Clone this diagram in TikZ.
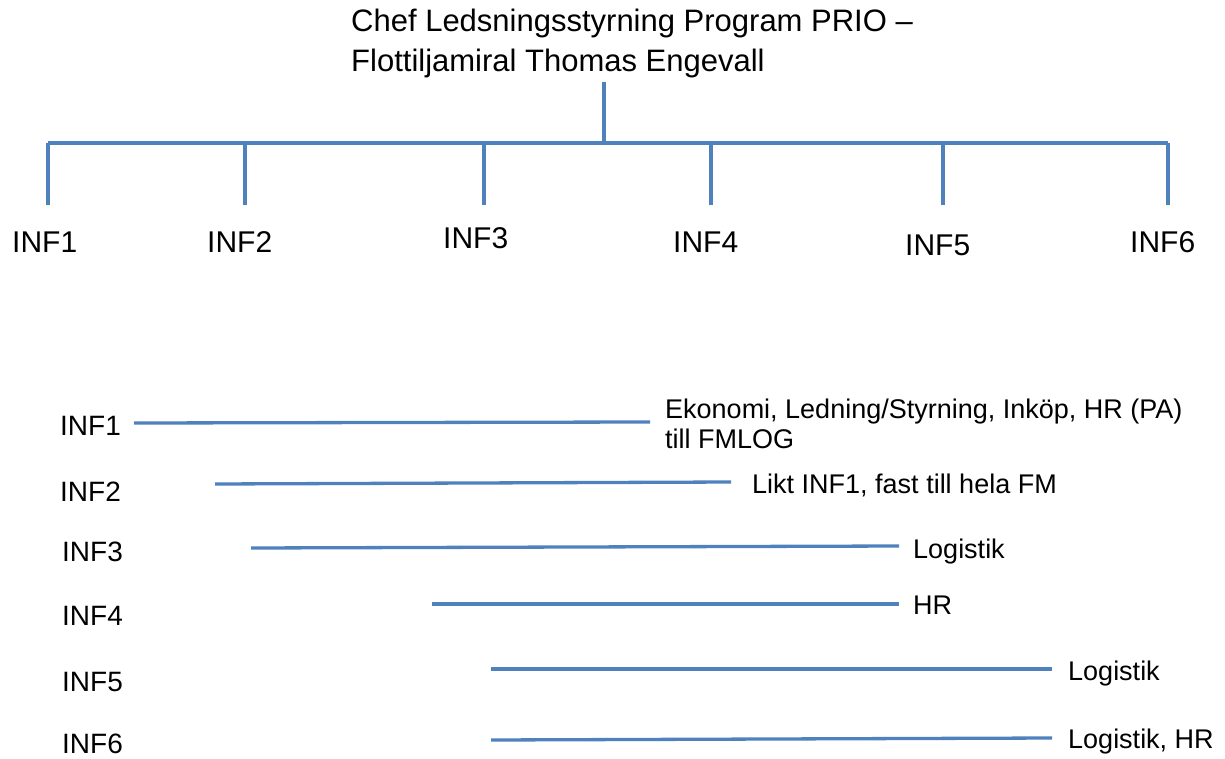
\documentclass[tikz,border=0pt]{standalone}
\usepackage{fontspec}
\setmainfont{Liberation Sans}
\definecolor{lineblue}{RGB}{79,129,189}
\tikzset{
  conn/.style={draw=lineblue, line width=3.3pt},
  ttl/.style={anchor=base west, inner sep=0pt, font=\fontsize{31}{36}\selectfont},
  toplbl/.style={anchor=base west, inner sep=0pt, font=\fontsize{30}{34}\selectfont},
  botlbl/.style={anchor=base west, inner sep=0pt, font=\fontsize{28}{32}\selectfont},
  desc/.style={anchor=base west, inner sep=0pt, font=\fontsize{27}{30}\selectfont}
}
\begin{document}
\begin{tikzpicture}[x=1pt,y=-1pt]
\useasboundingbox (0,0) rectangle (1225,759);
% title
\node[ttl] (title1) at (351,32) {Chef Ledsningsstyrning Program PRIO --};
\node[ttl] (title2) at (351,72) {Flottiljamiral Thomas Engevall};
\coordinate (stemtop) at (604,82);
\coordinate (hub) at (604,143);
\draw[conn] (stemtop) -- (hub);
% bar points
\coordinate (b1) at (48,143);
\coordinate (b2) at (245,143);
\coordinate (b3) at (484,143);
\coordinate (b4) at (711,143);
\coordinate (b5) at (943,143);
\coordinate (b6) at (1168,143);
\draw[conn] (b1) -- (b6);
\coordinate (d1) at (48,205);
\coordinate (d2) at (245,205);
\coordinate (d3) at (484,205);
\coordinate (d4) at (711,205);
\coordinate (d5) at (943,205);
\coordinate (d6) at (1168,205);
\foreach \i in {1,...,6} { \draw[conn] (b\i) -- (d\i); }
% top labels
\node[toplbl] (t1) at (12,253) {INF1};
\node[toplbl] (t2) at (207,253) {INF2};
\node[toplbl] (t3) at (443,249) {INF3};
\node[toplbl] (t4) at (673,253) {INF4};
\node[toplbl] (t5) at (905,255) {INF5};
\node[toplbl] (t6) at (1130,253) {INF6};
% bottom labels
\node[botlbl] (l1) at (60,435) {INF1};
\node[botlbl] (l2) at (60,501) {INF2};
\node[botlbl] (l3) at (62,561) {INF3};
\node[botlbl] (l4) at (62,625) {INF4};
\node[botlbl] (l5) at (62,691) {INF5};
\node[botlbl] (l6) at (62,753) {INF6};
% bottom lines
\coordinate (s1) at (134,423); \coordinate (e1) at (650,422);
\coordinate (s2) at (215,484); \coordinate (e2) at (731,482);
\coordinate (s3) at (251,548); \coordinate (e3) at (899,546);
\coordinate (s4) at (432,604); \coordinate (e4) at (899,604);
\coordinate (s5) at (491,669); \coordinate (e5) at (1052,669);
\coordinate (s6) at (491,740); \coordinate (e6) at (1052,738);
\foreach \i in {1,...,6} { \draw[conn] (s\i) -- (e\i); }
% descriptions
\node[desc] (r1a) at (665,418) {Ekonomi, Ledning/Styrning, Inköp, HR (PA)};
\node[desc] (r1b) at (665,448) {till FMLOG};
\node[desc] (r2) at (752,493) {Likt INF1, fast till hela FM};
\node[desc] (r3) at (913,558) {Logistik};
\node[desc] (r4) at (913,614) {HR};
\node[desc] (r5) at (1068,680) {Logistik};
\node[desc] (r6) at (1068,748) {Logistik, HR};
\end{tikzpicture}
\end{document}
